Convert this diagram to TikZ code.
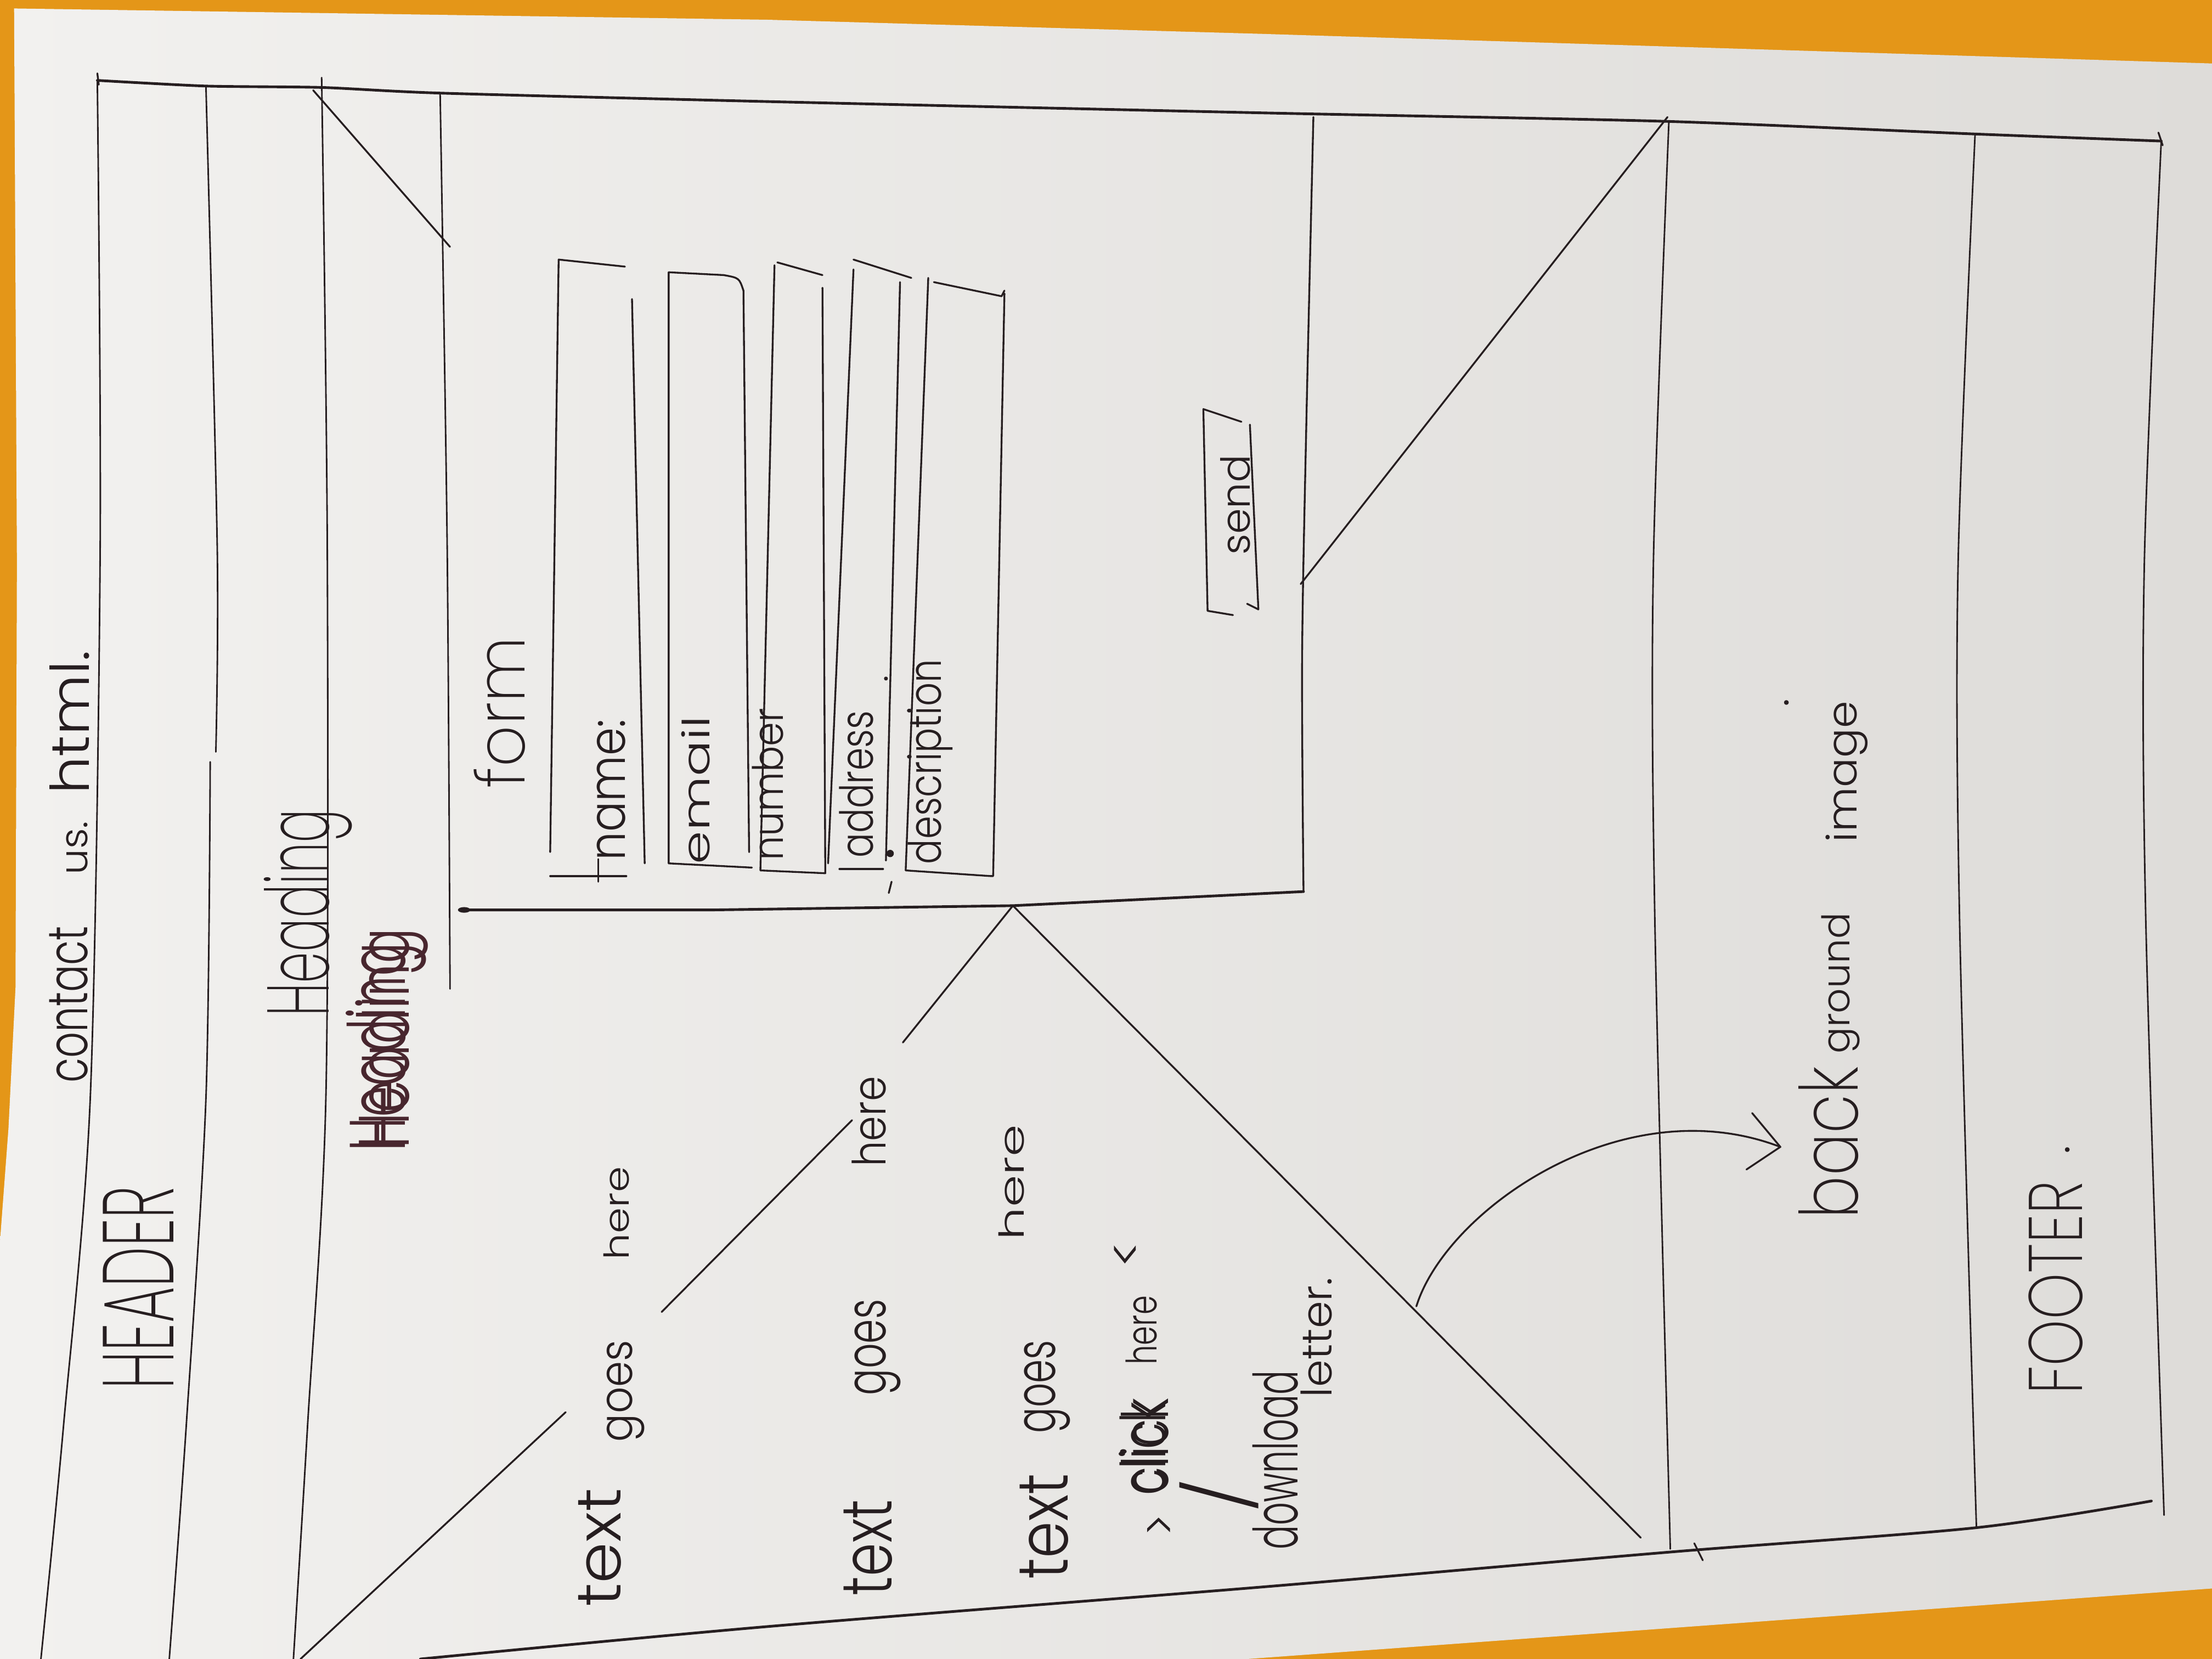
\documentclass[tikz,border=0pt]{standalone}
\usepackage{fontspec}
\usepackage{graphicx}
\newfontfamily\handfont{Poppins}[UprightFont=* Light]
\newfontfamily\handthin{Poppins}[UprightFont=* ExtraLight]
\definecolor{wall}{RGB}{228,150,24}
\definecolor{paperA}{RGB}{242,241,239}
\definecolor{paperB}{RGB}{222,220,217}
\definecolor{ink}{RGB}{38,30,32}
\definecolor{inkred}{RGB}{72,38,46}
\newdimen\su \su=0.5pt
% a handwritten word squeezed to a given length and height
\newcommand{\hw}[3]{\resizebox{#1\su}{#2\su}{#3}}

\begin{document}
\begin{tikzpicture}[x=0.5pt,y=-0.5pt,
  pen/.style={draw=ink, line width=0.65pt, line cap=round, line join=round},
  heavypen/.style={pen, line width=0.95pt},
  finepen/.style={pen, line width=0.55pt},
  word/.style={rotate=90, inner sep=0pt, outer sep=0pt, anchor=base, text=ink, font=\handfont},
  bigword/.style={word, font=\handthin},
  scrawl/.style={word, text=inkred},
  sign/.style={word, anchor=center},
  dotmark/.style={word, font=\handfont\fontsize{16}{16}\selectfont}]
\useasboundingbox (0,0) rectangle (1568,1176);

% table top and the sheet of paper
\fill[wall] (0,0) rectangle (1568,1176);
\shade[left color=paperA, right color=paperB]
  (10,6) -- (544,14) -- (894,24) -- (1568,45) -- (1568,1126) -- (884,1176)
  -- (0,1176) -- (0,880) -- (6,800) -- (11,700) -- (12,400) -- cycle;

% outer frame and page bands
\draw[heavypen] plot[smooth,tension=0.4] coordinates {(69,57) (146,61) (228,62) (312,66) (544,72) (894,80) (1180,86) (1400,95) (1532,100)};
\draw[pen] (69,52) -- (70,60);
\draw[pen] (1530,94) -- (1533,103);
\draw[finepen] plot[smooth,tension=0.5] coordinates {(69,58) (71,389) (64,778) (45,1011) (29,1176)};
\draw[finepen] plot[smooth,tension=0.5] coordinates {(146,62) (154,389) (153,533)};
\draw[finepen] plot[smooth,tension=0.5] coordinates {(149,540) (146,778) (132,1011) (120,1176)};
\draw[finepen] plot[smooth,tension=0.5] coordinates {(228,55) (232,389) (231,778) (218,1011) (208,1176)};
\draw[pen] (222,64) -- (319,175);
\draw[finepen] plot[smooth,tension=0.5] coordinates {(312,67) (317,389) (319,701)};

% form box
\draw[heavypen] (327,645) -- (506,645) -- (718,642) -- (924,632);
\fill[ink] (329,645) ellipse [x radius=2.2pt, y radius=1pt];
\draw[pen] plot[smooth,tension=0.5] coordinates {(931,83) (926,300) (923,467) (924,632)};
\draw[pen] (1182,83) -- (922,414);

% background image and footer bands
\draw[finepen] plot[smooth,tension=0.5] coordinates {(1183,86) (1172,400) (1173,650) (1184,1098)};
\draw[finepen] plot[smooth,tension=0.5] coordinates {(1400,96) (1388,400) (1389,650) (1401,1083)};
\draw[finepen] plot[smooth,tension=0.5] coordinates {(1532,100) (1520,400) (1521,650) (1534,1074)};
\draw[heavypen] plot[smooth,tension=0.5] coordinates {(298,1176) (544,1153) (894,1125) (1186,1100) (1400,1083) (1525,1064)};
\draw[pen] (1201,1094) -- (1207,1106);

% crossed placeholder behind the content
\draw[pen] (213,1176) -- (401,1001);
\draw[pen] (469,930) -- (604,794);
\draw[pen] (640,739) -- (718,642);
\draw[pen] (718,642) -- (1163,1090);

% input fields
\draw[pen] (443,189) -- (396,184) -- (390,604);
\draw[pen] (448,212) -- (457,612);
\draw[pen] (390,621) -- (444,621);
\draw[pen] (424,609) -- (424,625);
\draw[pen] (474,612) -- (474,193) -- (513,195) .. controls (524,197) .. (527,206) -- (531,604);
\draw[pen] (474,612) -- (533,615);
\draw[pen] (551,186) -- (583,195);
\draw[pen] (549,188) -- (539,617) -- (585,619) -- (583,204);
\draw[pen] (605,184) -- (646,197);
\draw[pen] (605,191) -- (587,612);
\draw[pen] (638,200) -- (628,610);
\draw[pen] (595,616) -- (626,616);
\fill[ink] (631,605) circle [radius=1.3pt];
\fill[ink] (628,481) circle [radius=0.7pt];
\draw[pen] (632,625) -- (630,633);
\draw[pen] (712,206) -- (710,210) -- (662,200);
\draw[pen] (658,197) -- (642,617) -- (702,621) -- (704,621) -- (712,208);

% send button
\draw[pen] (880,299) -- (853,290) -- (856,433) -- (874,436);
\draw[pen] (886,301) -- (892,432);
\draw[pen] (884,428) -- (892,432);

% arrow to the background label
\coordinate (arrowfoot) at (1004,926);
\coordinate (arrowtip) at (1262,813);
\draw[pen] (arrowfoot) .. controls (1025,858) and (1150,770) .. (arrowtip);
\draw[pen] (1242,789) -- (arrowtip) -- (1238,829);

% page title
\node[word] (tcontact) at (62,712) {\hw{111}{27}{contact}};
\node[word] (tus) at (62,601) {\hw{38}{15}{us.}};
\node[word] (thtml) at (63,512) {\hw{102}{28}{html.}};

% header and heading
\node[bigword] (header) at (123,913) {\hw{144}{50}{HEADER}};
\node[bigword] (heading) at (233,647) {\hw{147}{46}{Heading}};
\node[scrawl] (scrawlA) at (290,736) {\hw{156}{38}{Heading}};
\node[scrawl] (scrawlB) at (287,742) {\hw{148}{42}{Heading}};

% form labels
\node[bigword] (form) at (372,505) {\hw{107}{36}{form}};
\node[word] (lname) at (443,560) {\hw{100}{20}{name:}};
\node[word] (lemail) at (503,560) {\hw{105}{20}{email}};
\node[word] (lnumber) at (555,556) {\hw{108}{22}{number}};
\node[word] (laddress) at (619,556) {\hw{104}{24}{address}};
\node[word] (ldesc) at (667,540) {\hw{145}{24}{description}};
\node[word] (lsend) at (886,358) {\hw{71}{21}{send}};

% body copy
\node[word] (textA) at (440,1097) {\hw{84}{30}{text}};
\node[word] (goesA) at (448,986) {\hw{72}{18}{goes}};
\node[word] (hereA) at (446,860) {\hw{66}{18}{here}};
\node[word] (textB) at (632,1097) {\hw{68}{34}{text}};
\node[word] (goesB) at (628,955) {\hw{68}{22}{goes}};
\node[word] (hereB) at (628,795) {\hw{64}{24}{here}};
\node[word] (textC) at (757,1082) {\hw{75}{34}{text}};
\node[word] (goesC) at (748,983) {\hw{66}{22}{goes}};
\node[word] (hereC) at (726,838) {\hw{82}{18}{here}};

% link line
\node[sign] (gtsign) at (824,1081) {\hw{15}{21}{>}};
\node[word] (clickA) at (828,1025) {\hw{68}{34}{click}};
\node[word] (clickB) at (826,1027) {\hw{66}{33}{click}};
\node[word] (hereD) at (820,943) {\hw{49}{22}{here}};
\node[sign] (ltsign) at (800,889) {\hw{19}{20}{<}};
\node[sign] (slash) at (864,1060) {\resizebox*{24\su}{56\su}{/}};
\node[word] (download) at (920,1035) {\hw{127}{32}{download}};
\node[word] (letter) at (944,948) {\hw{85}{22}{letter.}};

% background and footer labels
\node[bigword] (lback) at (1317,810) {\hw{108}{42}{back}};
\node[word] (lground) at (1311,697) {\hw{100}{20}{ground}};
\node[word] (limage) at (1316,547) {\hw{100}{22}{image}};
\node[dotmark] (imagedot) at (1268,498) {.};
\node[bigword] (footer) at (1476,913) {\hw{151}{38}{FOOTER}};
\node[dotmark] (footerdot) at (1467,815) {.};
\end{tikzpicture}
\end{document}
